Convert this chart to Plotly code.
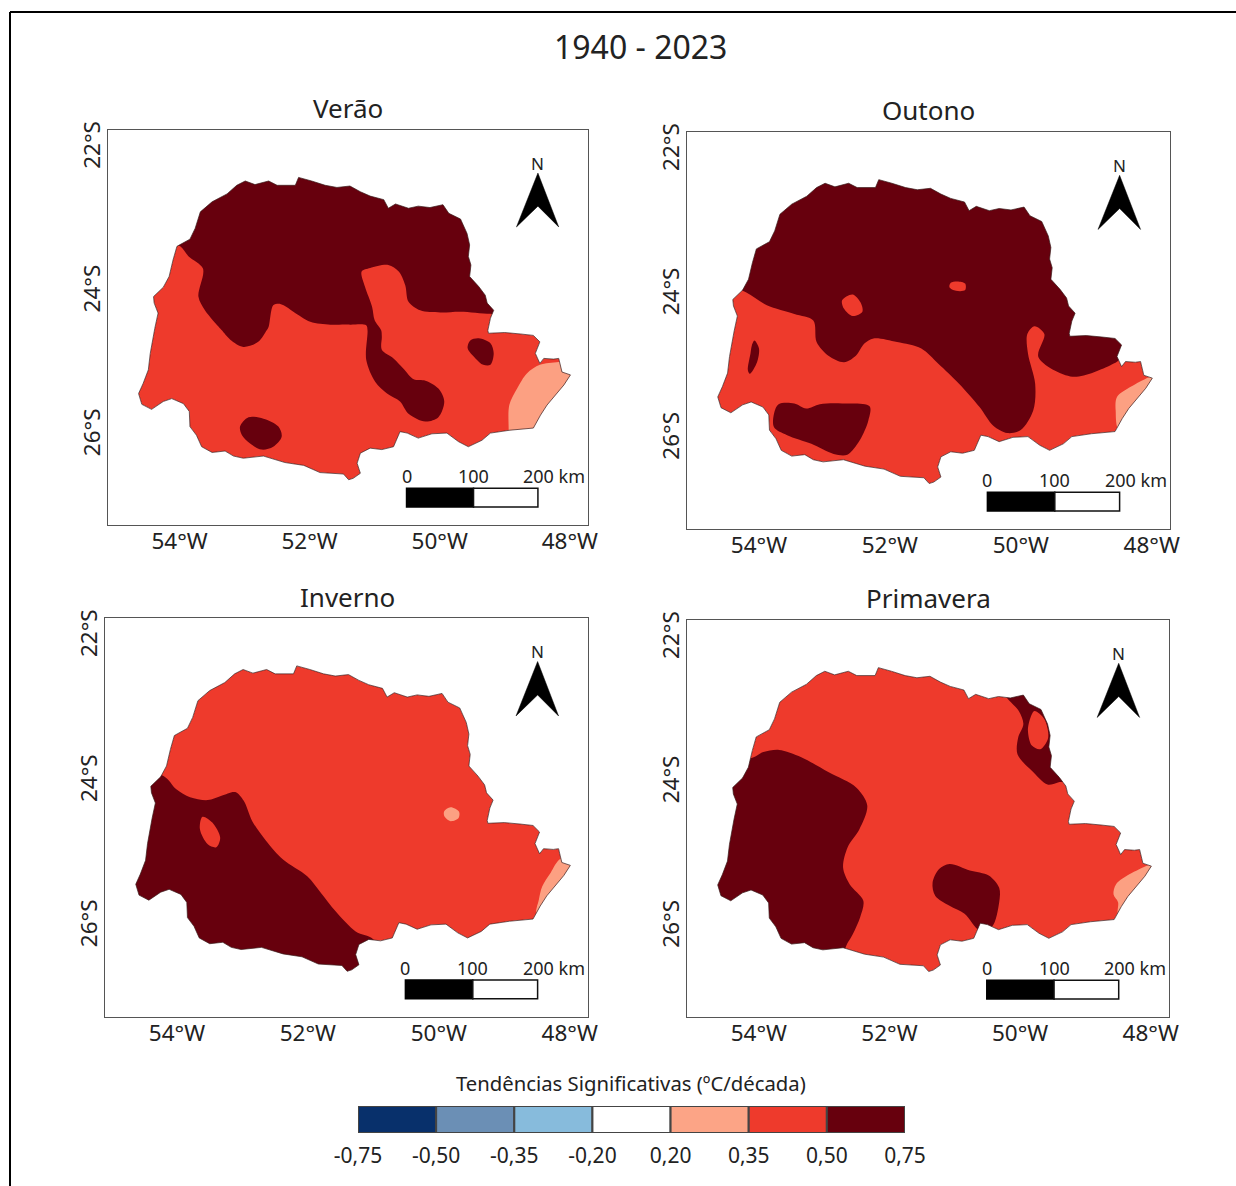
import plotly.graph_objects as go

W, H = 1236, 1186

# State outline (lon, lat), clockwise from the west side
OUT_LON = [-54.38,-54.33,-54.39,-54.40,-54.25,-54.16,-54.10,-54.04,-53.84,-53.76,-53.68,-53.50,-53.27,-53.12,-52.99,-52.84,-52.63,-52.50,-52.22,-52.17,-51.97,-51.76,-51.58,-51.38,
           -51.22,-51.07,-50.86,-50.79,-50.68,-50.48,-50.33,-50.15,-49.95,-49.86,-49.68,-49.58,-49.54,-49.56,-49.52,-49.54,-49.40,-49.30,-49.27,-49.17,-49.22,-49.26,
           -49.25,-49.00,-48.76,-48.56,-48.46,-48.53,-48.46,-48.40,-48.25,-48.17,-48.12,-47.99,-48.09,-48.22,-48.35,-48.45,-48.56,-48.92,-49.22,-49.35,-49.56,-49.71,-49.89,-50.12,-50.33,-50.50,-50.61,-50.71,-50.89,-51.07,-51.22,-51.27,-51.22,-51.33,
           -51.40,-51.48,-51.84,-52.09,-52.38,-52.71,-53.02,-53.17,-53.30,-53.50,-53.66,-53.74,-53.84,-53.85,-53.94,-54.12,-54.25,-54.43,-54.58,-54.63,-54.56,-54.48,-54.45]
OUT_LAT = [-24.56,-24.35,-24.21,-24.12,-23.99,-23.84,-23.61,-23.42,-23.32,-23.17,-22.94,-22.80,-22.69,-22.57,-22.51,-22.56,-22.51,-22.57,-22.57,-22.46,-22.51,-22.57,-22.60,-22.58,
           -22.66,-22.72,-22.77,-22.89,-22.83,-22.89,-22.86,-22.88,-22.84,-22.96,-23.04,-23.24,-23.40,-23.56,-23.68,-23.84,-23.98,-24.10,-24.21,-24.31,-24.42,-24.59,
           -24.63,-24.62,-24.64,-24.66,-24.75,-24.91,-25.05,-24.98,-24.99,-24.98,-25.17,-25.21,-25.35,-25.49,-25.63,-25.77,-25.95,-25.98,-26.02,-26.12,-26.21,-26.14,-26.02,-26.03,-26.09,-26.02,-26.00,-26.21,-26.25,-26.23,-26.30,-26.44,-26.58,-26.65,
           -26.67,-26.59,-26.57,-26.47,-26.43,-26.34,-26.37,-26.34,-26.27,-26.29,-26.21,-26.05,-25.93,-25.72,-25.61,-25.54,-25.58,-25.69,-25.62,-25.47,-25.33,-25.14,-24.91]

C_LIGHT, C_RED, C_DARK = "#fca082", "#ee3a2c", "#67000d"
LEG_COLORS = ["#08306b", "#6b8fb5", "#87bbdc", "#ffffff", "#fca486", "#ee3a2c", "#67000d"]
LEG_LABELS = ["-0,75", "-0,50", "-0,35", "-0,20", "0,20", "0,35", "0,50", "0,75"]

# Contour regions per panel: (colour, boundary points); the state mask trims what runs past the border
VERAO = [
 (C_DARK, [(-54.2,-23.35),(-54.2,-22.0),(-49.0,-22.0),(-48.9,-24.36),(-49.22,-24.36),(-49.68,-24.33),(-49.99,-24.34),(-50.30,-24.31),(-50.48,-24.19),(-50.53,-23.96),(-50.63,-23.77),(-50.79,-23.68),(-51.07,-23.72),(-51.20,-23.77),(-51.15,-23.98),(-51.04,-24.26),(-51.00,-24.45),(-50.90,-24.59),(-50.89,-24.68),(-50.89,-24.86),(-50.71,-24.98),(-50.56,-25.12),(-50.40,-25.27),(-50.22,-25.29),(-50.02,-25.40),(-49.93,-25.58),(-50.02,-25.80),(-50.22,-25.86),(-50.48,-25.75),(-50.61,-25.58),(-50.81,-25.47),(-50.99,-25.31),(-51.13,-25.00),(-51.11,-24.59),(-51.13,-24.52),(-51.38,-24.51),(-51.68,-24.51),(-51.99,-24.47),(-52.25,-24.33),(-52.40,-24.24),(-52.48,-24.22),(-52.56,-24.24),(-52.63,-24.54),(-52.66,-24.59),(-52.79,-24.75),(-53.02,-24.82),(-53.22,-24.72),(-53.35,-24.59),(-53.38,-24.56),(-53.61,-24.31),(-53.71,-24.12),(-53.64,-23.73),(-53.86,-23.56),(-53.99,-23.42)]),
 (C_DARK, [(-49.40,-24.70),(-49.22,-24.77),(-49.17,-24.91),(-49.22,-25.07),(-49.33,-25.07),(-49.45,-24.98),(-49.57,-24.84),(-49.53,-24.73)]),
 (C_DARK, [(-53.07,-25.93),(-52.94,-25.80),(-52.71,-25.82),(-52.48,-25.93),(-52.43,-26.07),(-52.56,-26.21),(-52.74,-26.25),(-52.92,-26.16),(-53.04,-26.05)]),
 (C_LIGHT, [(-48.94,-25.98),(-48.93,-25.63),(-48.81,-25.40),(-48.66,-25.19),(-48.46,-25.07),(-48.17,-25.03),(-47.8,-25.0),(-47.8,-26.2),(-48.94,-26.2)]),
]
OUTONO = [
 (C_DARK, [(-54.2,-24.02),(-54.8,-23.8),(-54.8,-22.0),(-47.9,-22.0),(-48.3,-24.5),(-48.49,-24.95),(-48.63,-25.03),(-49.21,-25.19),(-49.73,-24.92),(-49.64,-24.60),(-49.79,-24.49),(-49.90,-24.60),(-49.89,-24.87),(-49.78,-25.29),(-49.81,-25.66),(-50.00,-25.93),(-50.21,-25.97),(-50.42,-25.87),(-50.63,-25.61),(-50.94,-25.29),(-51.26,-25.01),(-51.52,-24.80),(-51.89,-24.71),(-52.25,-24.66),(-52.39,-24.73),(-52.52,-24.90),(-52.70,-24.99),(-52.94,-24.90),(-53.12,-24.71),(-53.17,-24.41),(-53.46,-24.32),(-53.88,-24.20)]),
 (C_RED, [(-52.57,-24.05),(-52.45,-24.16),(-52.42,-24.29),(-52.57,-24.35),(-52.70,-24.25),(-52.73,-24.13)]),
 (C_RED, [(-50.97,-23.87),(-50.85,-23.90),(-50.85,-23.99),(-50.99,-24.00),(-51.09,-23.95),(-51.07,-23.89)]),
 (C_DARK, [(-54.07,-24.69),(-54.00,-24.80),(-54.03,-24.99),(-54.14,-25.15),(-54.17,-25.10),(-54.13,-24.87),(-54.11,-24.76)]),
 (C_DARK, [(-53.70,-25.57),(-53.46,-25.56),(-53.28,-25.63),(-53.07,-25.57),(-52.73,-25.56),(-52.31,-25.60),(-52.33,-25.80),(-52.46,-26.07),(-52.65,-26.27),(-52.86,-26.26),(-53.20,-26.12),(-53.57,-26.00),(-53.77,-25.89),(-53.77,-25.70)]),
 (C_LIGHT, [(-48.05,-25.2),(-47.9,-25.15),(-47.9,-26.0),(-48.49,-25.95),(-48.55,-25.66),(-48.53,-25.47),(-48.32,-25.33)]),
]
INVERNO = [
 (C_DARK, [(-54.2,-23.98),(-54.01,-24.16),(-53.80,-24.27),(-53.53,-24.31),(-53.32,-24.25),(-53.11,-24.20),(-52.98,-24.32),(-52.85,-24.60),(-52.64,-24.87),(-52.38,-25.13),(-52.01,-25.36),(-51.80,-25.59),(-51.58,-25.84),(-51.27,-26.12),(-51.0,-26.23),(-50.95,-26.5),(-51.0,-27.0),(-55.0,-27.0),(-55.0,-23.8)]),
 (C_RED, [(-53.61,-24.54),(-53.46,-24.62),(-53.34,-24.83),(-53.40,-24.96),(-53.53,-24.92),(-53.65,-24.71)]),
 (C_LIGHT, [(-49.82,-24.41),(-49.69,-24.47),(-49.70,-24.56),(-49.82,-24.60),(-49.91,-24.54),(-49.92,-24.47)]),
 (C_LIGHT, [(-48.14,-25.12),(-47.9,-25.12),(-47.9,-26.0),(-48.5,-25.9),(-48.47,-25.68),(-48.42,-25.50),(-48.29,-25.31)]),
]
PRIMAVERA = [
 (C_DARK, [(-54.14,-23.72),(-53.93,-23.63),(-53.69,-23.60),(-53.35,-23.70),(-52.93,-23.91),(-52.51,-24.12),(-52.34,-24.37),(-52.46,-24.70),(-52.64,-24.95),(-52.71,-25.23),(-52.61,-25.46),(-52.40,-25.69),(-52.45,-25.92),(-52.56,-26.15),(-52.68,-26.37),(-52.6,-26.8),(-55.0,-26.8),(-55.0,-23.6)]),
 (C_DARK, [(-51.08,-25.18),(-50.77,-25.27),(-50.48,-25.34),(-50.32,-25.51),(-50.32,-25.71),(-50.43,-26.05),(-50.62,-26.10),(-50.85,-25.87),(-51.08,-25.76),(-51.30,-25.62),(-51.34,-25.44),(-51.24,-25.25)]),
 (C_DARK, [(-50.22,-22.7),(-49.3,-22.7),(-49.2,-24.0),(-49.42,-24.05),(-49.58,-24.08),(-49.82,-23.89),(-50.04,-23.66),(-50.03,-23.43),(-49.95,-23.24),(-50.02,-23.06),(-50.22,-22.85)]),
 (C_RED, [(-49.78,-23.06),(-49.63,-23.17),(-49.57,-23.43),(-49.69,-23.59),(-49.82,-23.54),(-49.88,-23.33),(-49.84,-23.15)]),
 (C_LIGHT, [(-48.05,-25.2),(-47.9,-25.15),(-47.9,-26.0),(-48.49,-25.9),(-48.50,-25.71),(-48.57,-25.60),(-48.53,-25.46),(-48.32,-25.32)]),
]

PANELS = [
 ("Verão", VERAO, (108, 588, 130, 525), (348, 108)),
 ("Outono", OUTONO, (687, 1170, 132, 529), (928, 110)),
 ("Inverno", INVERNO, (105, 588, 618, 1017), (347, 597)),
 ("Primavera", PRIMAVERA, (687, 1169, 620, 1017), (928, 598)),
]

LON_RANGE = [-55.1, -47.72]
LAT_RANGE = [-27.3, -21.8]
LON_TICKS = [-54, -52, -50, -48]
LON_TEXT = ["54°W", "52°W", "50°W", "48°W"]
LAT_TICKS = [-22, -24, -26]
LAT_TEXT = ["22°S", "24°S", "26°S"]
ARROW_LON = [-48.49, -48.82, -48.49, -48.17]
ARROW_LAT = [-22.40, -23.15, -22.86, -23.15]
BAR_LON = [-50.51, -49.48, -48.49]
BAR_LAT = [-27.05, -26.79]

FONT = "Noto Sans"
INK = "#222222"
FRAME = "#555555"

fig = go.Figure()
annotations, shapes = [], []
layout = {}

def label(text, x, y, size, xref="paper", yref="paper"):
    annotations.append(dict(text=text, xref=xref, yref=yref, x=x, y=y, showarrow=False, xanchor="center", yanchor="middle",
                            font=dict(family=FONT, size=size, color=INK)))

for k, (name, regions, (x0, x1, y0, y1), (tx, ty)) in enumerate(PANELS, start=1):
    sfx = "" if k == 1 else str(k)
    xa, ya = "x" + sfx, "y" + sfx
    layout["xaxis" + sfx] = dict(domain=[x0 / W, x1 / W], range=LON_RANGE, anchor=ya, tickvals=LON_TICKS, ticktext=LON_TEXT,
                                 showgrid=False, zeroline=False, ticks="", mirror=True, showline=True, linecolor=FRAME, linewidth=1.2,
                                 ticklabelstandoff=-4, tickfont=dict(family=FONT, size=22.5, color=INK), fixedrange=True)
    layout["yaxis" + sfx] = dict(domain=[1 - y1 / H, 1 - y0 / H], range=LAT_RANGE, anchor=xa, tickvals=LAT_TICKS, ticktext=LAT_TEXT,
                                 showgrid=False, zeroline=False, ticks="", mirror=True, showline=True, linecolor=FRAME, linewidth=1.2,
                                 tickangle=-90, ticklabelshift=4, ticklabelstandoff=-2, tickfont=dict(family=FONT, size=22.5, color=INK), fixedrange=True)
    common = dict(xaxis=xa, yaxis=ya, showlegend=False, hoverinfo="skip")
    fig.add_trace(go.Scatter(x=OUT_LON + OUT_LON[:1], y=OUT_LAT + OUT_LAT[:1], mode="lines", fill="toself",
                             fillcolor=C_RED, line=dict(width=0), **common))
    for color, pts in regions:
        lon = [p[0] for p in pts]
        lat = [p[1] for p in pts]
        fig.add_trace(go.Scatter(x=lon + lon[:1], y=lat + lat[:1], mode="lines", fill="toself", fillcolor=color,
                                 line=dict(width=0, shape="spline", smoothing=0.9), **common))
    # white mask outside the state: frame rectangle with the outline as a hole
    mask_x = [LON_RANGE[0], LON_RANGE[0], LON_RANGE[1], LON_RANGE[1], LON_RANGE[0], None] + OUT_LON + OUT_LON[:1]
    mask_y = [LAT_RANGE[1], LAT_RANGE[0], LAT_RANGE[0], LAT_RANGE[1], LAT_RANGE[1], None] + OUT_LAT + OUT_LAT[:1]
    fig.add_trace(go.Scatter(x=mask_x, y=mask_y, mode="lines", fill="toself", fillcolor="#ffffff", line=dict(width=0), **common))
    fig.add_trace(go.Scatter(x=OUT_LON + OUT_LON[:1], y=OUT_LAT + OUT_LAT[:1], mode="lines",
                             line=dict(width=0.7, color="#3a1a1a"), **common))
    fig.add_trace(go.Scatter(x=ARROW_LON + ARROW_LON[:1], y=ARROW_LAT + ARROW_LAT[:1], mode="lines", fill="toself",
                             fillcolor="#000000", line=dict(width=0.5, color="#000000"), **common))
    shapes.append(dict(type="rect", xref=xa, yref=ya, x0=BAR_LON[0], x1=BAR_LON[1], y0=BAR_LAT[0], y1=BAR_LAT[1],
                       fillcolor="#000000", line=dict(color="#000000", width=1.5)))
    shapes.append(dict(type="rect", xref=xa, yref=ya, x0=BAR_LON[1], x1=BAR_LON[2], y0=BAR_LAT[0], y1=BAR_LAT[1],
                       fillcolor="#ffffff", line=dict(color="#111111", width=1.5)))
    label("0", BAR_LON[0], -26.62, 18, xa, ya)
    label("100", BAR_LON[1], -26.62, 18, xa, ya)
    label("200 km", -48.24, -26.62, 18, xa, ya)
    label("N", ARROW_LON[0], -22.26, 17, xa, ya)
    label(name, tx / W, 1 - ty / H, 26)

# legend
layout["xaxis5"] = dict(domain=[358 / W, 905 / W], range=[0, 7], anchor="y5", tickvals=list(range(8)), ticktext=LEG_LABELS,
                        showgrid=False, zeroline=False, ticks="", showline=False, ticklabelstandoff=8,
                        tickfont=dict(family=FONT, size=21, color=INK), fixedrange=True)
layout["yaxis5"] = dict(domain=[1 - 1133 / H, 1 - 1106 / H], range=[-0.5, 0.5], anchor="x5", showticklabels=False,
                        showgrid=False, zeroline=False, fixedrange=True)
fig.add_trace(go.Bar(x=[1] * 7, base=list(range(7)), y=[0] * 7, orientation="h", width=1,
                     marker=dict(color=LEG_COLORS, line=dict(color="#444444", width=2)),
                     xaxis="x5", yaxis="y5", showlegend=False, hoverinfo="skip"))
label("Tendências Significativas (ºC/década)", 631 / W, 1 - 1083 / H, 20.3)
label("1940 - 2023", 640 / W, 1 - 47 / H, 32)
for xa_, ya_, xb_, yb_ in ((10, 12, 1236, 12), (10, 12, 10, 1186)):
    shapes.append(dict(type="line", xref="paper", yref="paper", x0=xa_ / W, x1=xb_ / W, y0=1 - ya_ / H, y1=1 - yb_ / H,
                       line=dict(color="#000000", width=2)))

fig.update_layout(width=W, height=H, margin=dict(l=0, r=0, t=0, b=0, autoexpand=False), paper_bgcolor="#ffffff", plot_bgcolor="#ffffff",
                  barmode="overlay", annotations=annotations, shapes=shapes, **layout)
fig.write_html("out.html", config=dict(displayModeBar=False),
               post_script="document.body.style.margin='0';document.documentElement.style.overflow='hidden';")
